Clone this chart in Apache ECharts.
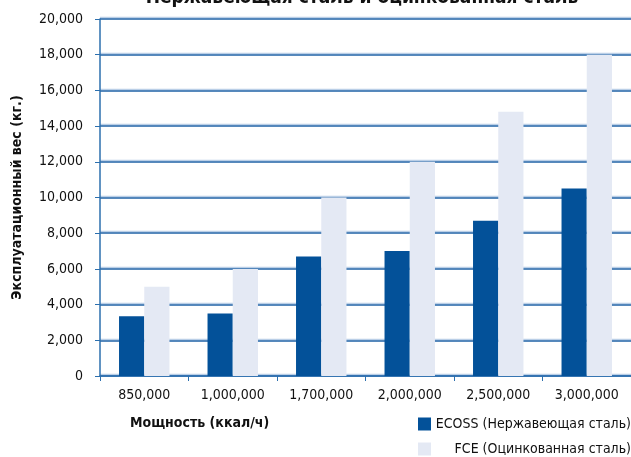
<!DOCTYPE html>
<html><head><meta charset="utf-8">
<script src="https://cdn.jsdelivr.net/npm/echarts@6/dist/echarts.min.js"></script>
<style>html,body{margin:0;padding:0;background:#fff}#c{width:631px;height:457px}</style>
</head><body><div id="c"></div>
<script>
const categories = ['850,000','1,000,000','1,700,000','2,000,000','2,500,000','3,000,000'];
const ecoss = [3350, 3500, 6700, 7000, 8700, 10500];
const fce = [5000, 6000, 10000, 12000, 14800, 18000];
const seriesNames = ['ECOSS (Нержавеющая сталь)', 'FCE (Оцинкованная сталь)'];
const titleText = 'Нержавеющая сталь и оцинкованная сталь';
const FONT = '"Liberation Sans Narrow","DejaVu Sans Condensed","Roboto Condensed",sans-serif';
const chart = echarts.init(document.getElementById('c'));
chart.setOption({
  animation: false,
  textStyle: {fontFamily: FONT},
  title: {text: titleText, left: 357, textAlign: 'center', top: -16,
    textStyle: {fontFamily: FONT, fontSize: 19, fontWeight: 'bold', color: '#111'}},
  legend: {orient: 'vertical', right: 0, top: 417, height: 80, padding: 0, icon: 'rect', itemWidth: 13, itemHeight: 13, itemGap: 11,
    textStyle: {fontFamily: FONT, fontSize: 14, color: '#111',
      rich: {a: {fontFamily: FONT, fontSize: 14, color: '#111', width: 195, align: 'right'}}},
    formatter: n => '{a|' + n + '}',
    data: seriesNames},
  grid: {left: 100, right: 0, top: 19, bottom: 81},
  xAxis: {type: 'category', data: categories,
    name: 'Мощность (ккал/ч)', nameLocation: 'start', nameGap: 0,
    nameTextStyle: {fontFamily: FONT, fontSize: 14, fontWeight: 'bold', color: '#111', align: 'left', verticalAlign: 'top', padding: [40, 0, 0, 30]},
    axisLine: {lineStyle: {color: '#2c6fae', width: 1.5}},
    axisTick: {show: true, length: 5, lineStyle: {color: '#2c6fae'}},
    axisLabel: {fontFamily: FONT, fontSize: 14, color: '#111', margin: 12}},
  yAxis: {type: 'value', min: 0, max: 20000, interval: 2000,
    name: 'Эксплуатационный вес (кг.)', nameLocation: 'middle', nameGap: 76, nameRotate: 90,
    nameTextStyle: {fontFamily: FONT, fontSize: 14, fontWeight: 'bold', color: '#111'},
    axisLine: {show: true, lineStyle: {color: '#2c6fae', width: 1.5}},
    axisTick: {show: true, length: 5, lineStyle: {color: '#2c6fae'}},
    axisLabel: {fontFamily: FONT, fontSize: 14, color: '#111', margin: 17,
      formatter: v => v.toLocaleString('en-US')},
    splitLine: {lineStyle: {color: '#1f62a6', width: 1.5, shadowColor: 'rgba(140,175,215,0.6)', shadowOffsetY: -1.5, shadowBlur: 0}}},
  series: [
    {name: seriesNames[0], type: 'bar', data: ecoss, barGap: '0%', barCategoryGap: '43%', itemStyle: {color: '#035199'}},
    {name: seriesNames[1], type: 'bar', data: fce, itemStyle: {color: '#e4e9f4'}}
  ]
});
</script></body></html>
